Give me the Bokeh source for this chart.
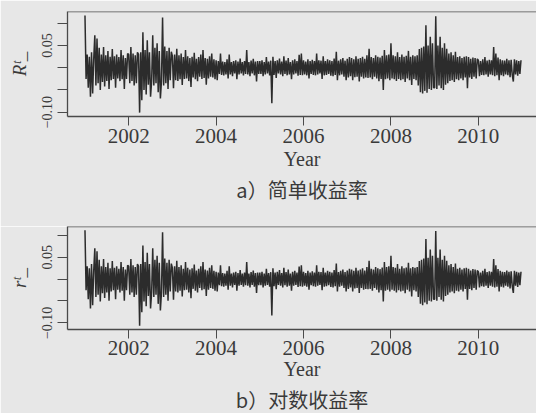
import numpy as np
from bokeh.plotting import figure
from bokeh.layouts import column
from bokeh.models import FixedTicker, Range1d, Span, Title
from bokeh.embed import file_html
from bokeh.resources import INLINE

# ---- data (simple daily returns in %, ~40 readings per year) ----
YEARS = [2001, 2002, 2003, 2004, 2005, 2006, 2007, 2008, 2009, 2010]
R2001 = [11.8, -2.5, 3.0, -4.5, 2.5, -6.5, 3.5, -5.8, 2.0, 7.3, -4.0, 6.6, -3.5, 4.5, -5.0, 3.0, -3.2, 4.7, -4.2, 2.8,
         -3.0, 3.8, -4.8, 2.5, -2.8, 4.2, -2.5, 2.6, -4.5, 3.0, -2.4, 2.4, -3.0, 4.0, -2.6, 2.8, -4.8, 2.2, -2.5, 3.2]
R2002 = [3.0, -3.5, 4.7, -3.0, 3.2, -4.0, 2.8, -3.5, 3.5, 3.0, -10.1, 3.5, -7.3, 8.0, -5.0, 4.0, -6.0, 6.2, -3.8, 3.5,
         -6.5, -3.0, 7.3, -4.0, 4.5, -3.5, 5.5, -5.5, 3.8, -6.9, -3.0, 11.3, -4.0, 4.8, -3.5, 3.8, -4.8, 4.5, -2.8, 3.6]
R2003 = [2.6, -4.6, 3.0, -2.8, 4.3, -3.0, 2.8, -2.6, 3.2, -3.9, 2.4, -2.5, 4.0, -2.4, 2.6, -3.0, 2.2, -4.3, 2.5, -2.2,
         3.4, -2.6, 2.0, -3.0, 2.4, -2.0, 3.0, -2.5, 4.0, -2.3, 2.2, -3.8, 2.0, -2.4, 2.6, -2.0, 3.2, -2.2, 1.9, -2.6]
R2004 = [1.7, -2.8, 1.5, -1.4, 3.2, -1.6, 1.4, -1.7, 1.3, -1.5, 1.9, -2.4, 3.0, -1.5, 1.3, -1.9, 1.5, -1.3, 1.7, -2.6,
         1.4, -1.5, 2.1, -1.3, 1.3, -1.7, 1.5, -1.4, 4.0, -1.5, 1.3, -1.9, 1.6, -1.3, 2.0, -1.7, 1.4, -3.1, 1.5, -1.4]
R2005 = [1.5, -1.4, 1.7, -1.9, 1.3, -1.5, 2.4, -1.3, 1.4, -1.7, 1.6, -8.0, 2.5, -1.6, 1.5, -2.3, 1.7, -1.3, 2.1, -1.5,
         1.4, -1.9, 2.6, -1.4, 1.6, -1.7, 2.2, -1.5, 1.3, -2.6, 1.7, -1.5, 1.9, -1.3, 1.5, -1.8, 2.9, -1.6, 3.2, -1.7]
R2006 = [1.7, -1.5, 1.4, -1.7, 1.9, -2.4, 1.5, -1.4, 1.8, -1.6, 1.5, -1.7, 3.2, -1.5, 1.7, -1.3, 1.6, -2.5, 2.6, -1.7,
         1.5, -1.6, 1.9, -1.4, 1.7, -1.8, 1.5, -1.9, 2.1, -1.6, 3.6, -2.8, 1.6, -1.7, 1.9, -1.5, 2.2, -2.0, 1.6, -2.8]
R2007 = [2.0, -2.2, 2.4, -1.9, 2.2, -2.8, 1.9, -2.1, 2.6, -2.0, 2.0, -3.1, 2.2, -2.0, 2.5, -2.4, 2.0, -2.2, 2.8, -2.3,
         4.3, -2.2, 2.4, -2.6, 2.2, -2.0, 2.8, -2.4, 2.5, -3.0, 2.3, -2.5, 2.7, -5.0, 4.0, -2.6, 2.8, -2.4, 3.0, -2.8]
R2008 = [5.5, -2.4, 2.8, -2.6, 2.6, -3.0, 3.5, -2.5, 2.4, -2.8, 3.0, -2.6, 2.5, -3.2, 2.7, -2.4, 3.8, -2.8, 2.5, -3.9,
         2.8, -2.5, 2.6, -2.8, 2.8, -4.0, 4.2, -5.5, 4.5, -5.8, 4.8, -5.2, 9.6, -5.6, 5.0, -4.8, 7.0, -5.0, 5.5, -4.5]
R2009 = [-4.5, 11.6, -4.8, 5.0, -4.0, 7.0, -4.6, 4.5, -5.0, 5.5, -3.8, 4.3, -3.5, 3.2, -3.0, 3.5, -2.8, 2.8, -3.2, 3.6,
         -2.6, 2.4, -2.8, 2.6, -2.4, 2.2, -2.8, 2.5, -2.2, 2.6, -4.6, 2.4, -2.2, 2.0, -2.5, 2.3, -2.0, 2.2, -2.4, 2.0]
R2010 = [1.7, -1.9, 1.5, -1.6, 1.9, -1.7, 2.4, -1.5, 1.6, -2.0, 1.8, -1.5, 1.7, -1.7, 4.7, -1.9, 3.2, -1.7, 2.3, -2.8,
         1.9, -1.7, 1.7, -1.9, 1.6, -1.5, 2.0, -1.7, 1.7, -2.1, 1.8, -1.6, -3.1, 1.9, -1.5, 1.7, -1.8, 1.5, -1.4, 1.7]

XTICKS = [2002, 2004, 2006, 2008, 2010]
XTICK_LABELS = ["2002", "2004", "2006", "2008", "2010"]
YTICKS = [-0.10, -0.05, 0.0, 0.05, 0.10]
YTICK_LABELS = ["\u22120.10", "", "", "0.05", ""]
X_LABEL = "Year"
Y_LABELS = ["R\u1d57_", "r\u1d57_"]
CAPTIONS = ["a\uff09简单收益率", "b\uff09对数收益率"]

yearly = [R2001, R2002, R2003, R2004, R2005, R2006, R2007, R2008, R2009, R2010]
dates = np.concatenate([yr + np.arange(len(v)) / len(v) for yr, v in zip(YEARS, yearly)])
simple = np.concatenate([np.asarray(v, float) for v in yearly]) / 100.0
logret = np.log1p(simple)

BG = "#e7e7e7"
INK = "#3a3a3a"
FRAME = "#4a4a4a"
SERIF = "Liberation Serif"


def panel(y, ylabel, caption, frame_h, btop, bbottom, tick_standoff, xlab_standoff, title_standoff):
    lo, hi = float(y.min()), float(y.max())
    pad = 0.04 * (hi - lo)
    ylo, yhi = lo - pad, hi + pad
    xlo = dates.min() - 0.04 * (dates.max() - dates.min() + 0.025)
    p = figure(frame_width=469, frame_height=frame_h, output_backend="svg", toolbar_location=None,
               x_range=Range1d(xlo, 2011.33), y_range=Range1d(ylo, yhi),
               min_border_left=67, min_border_right=0, min_border_top=btop,
               min_border_bottom=bbottom, background_fill_color=BG, border_fill_color=BG,
               outline_line_color=None)
    p.grid.visible = False
    p.line(dates, y, line_color="#2c2c2c", line_width=1.5)
    p.add_layout(Span(location=yhi, dimension="width", line_color=FRAME, line_width=1.3))

    xa = p.xaxis[0]
    xa.ticker = FixedTicker(ticks=XTICKS, minor_ticks=[])
    xa.major_label_overrides = dict(zip(XTICKS, XTICK_LABELS))
    xa.axis_label = X_LABEL
    xa.axis_label_text_font = SERIF
    xa.axis_label_text_font_style = "normal"
    xa.axis_label_text_font_size = "20px"
    xa.axis_label_text_color = INK
    xa.axis_label_standoff = xlab_standoff
    xa.major_label_text_font = SERIF
    xa.major_label_text_font_size = "21px"
    xa.major_label_text_color = INK
    xa.major_label_standoff = tick_standoff
    xa.major_tick_out = 9
    xa.major_tick_in = 0
    xa.axis_line_color = FRAME
    xa.axis_line_width = 1.3
    xa.major_tick_line_color = FRAME

    ya = p.yaxis[0]
    ya.ticker = FixedTicker(ticks=YTICKS, minor_ticks=[])
    ya.major_label_overrides = dict(zip(YTICKS, YTICK_LABELS))
    ya.major_label_orientation = "vertical"
    ya.axis_label = ylabel
    ya.axis_label_text_font = SERIF
    ya.axis_label_text_font_style = "italic"
    ya.axis_label_text_font_size = "19px"
    ya.axis_label_text_color = INK
    ya.axis_label_standoff = 10
    ya.major_label_text_font = SERIF
    ya.major_label_text_font_size = "14px"
    ya.major_label_text_color = INK
    ya.major_label_standoff = 5
    ya.major_tick_out = 10
    ya.major_tick_in = 0
    ya.axis_line_color = FRAME
    ya.axis_line_width = 1.3
    ya.major_tick_line_color = FRAME

    p.add_layout(Title(text=caption, align="center", offset=4, standoff=title_standoff,
                       text_font="Noto Sans CJK SC", text_font_size="20px",
                       text_font_style="normal", text_color=INK), "below")
    return p


p1 = panel(simple, Y_LABELS[0], CAPTIONS[0], 105, 11, 110, 3, 2, 1)
p2 = panel(logret, Y_LABELS[1], CAPTIONS[1], 103, 0, 100, 2, 0, 0)
layout = column(p1, p2, spacing=0)

html = file_html(layout, INLINE)
html = html.replace("<body>", '<body style="background-color:%s; overflow:hidden;">' % BG, 1)
open("out.html", "w").write(html)
